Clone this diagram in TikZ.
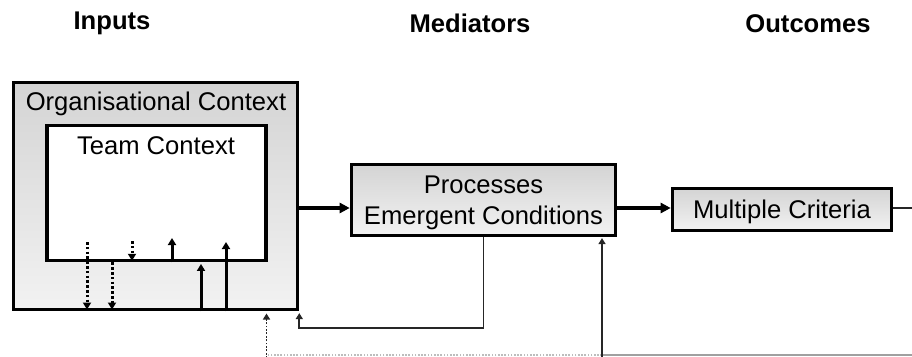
\documentclass[tikz,border=0pt]{standalone}
\usepackage{fontspec}
\setmainfont{Liberation Sans}
\usetikzlibrary{arrows.meta}
\definecolor{shadetop}{HTML}{D4D4D4}
\definecolor{shadebot}{HTML}{F2F2F2}
\definecolor{wire}{HTML}{262626}
\definecolor{edgegray}{HTML}{A0A0A0}
\begin{document}
\begin{tikzpicture}[x=1pt,y=-1pt,
  txt/.style={font=\fontsize{25.6}{30}\selectfont, inner sep=0pt, anchor=base},
  head/.style={txt, font=\fontsize{25.6}{30}\selectfont\bfseries},
  shadedbox/.style={draw=black, line width=3.6pt, top color=shadetop, bottom color=shadebot, inner sep=0pt},
  plainbox/.style={draw=black, line width=3.2pt, fill=white, inner sep=0pt},
  bigarrow/.style={line width=3.2pt, -{Triangle[length=10pt,width=10pt]}},
  smallarrow/.style={line width=3pt, -{Triangle[length=7pt,width=8pt]}},
  dotarrow/.style={smallarrow, dash pattern=on 2.6pt off 2.2pt},
  thinarrow/.style={draw=wire, line width=1.9pt, -{Triangle[length=6pt,width=7pt]}},
  thindot/.style={thinarrow, dash pattern=on 1.8pt off 1.6pt},
]
\path[use as bounding box] (0,0) rectangle (912,356);
\clip (0,0) rectangle (912,356);

% column headings
\node[head] (hin)  at (112,29) {Inputs};
\node[head] (hmed) at (470,32) {Mediators};
\node[head] (hout) at (808,32) {Outcomes};

% boxes
\node[shadedbox, minimum width=284pt, minimum height=227pt] (org) at (155.5,196) {};
\node[plainbox, minimum width=219pt, minimum height=135.5pt] (team) at (156.5,193) {};
\node[shadedbox, minimum width=264pt, minimum height=71pt] (proc) at (483.5,200) {};
\node[shadedbox, minimum width=219pt, minimum height=42pt] (crit) at (782,209.5) {};

% box labels
\node[txt] (orgl)  at (156,110) {Organisational Context};
\node[txt] (teaml) at (156,154) {Team Context};
\node[txt] (procl) at (483.5,193) {Processes};
\node[txt] (emerl) at (483.5,224) {Emergent Conditions};
\node[txt] (critl) at (782,218) {Multiple Criteria};

% reference points
\coordinate (mid) at (0,208);
\coordinate (d1) at (87,242);
\coordinate (d2) at (112,0);
\coordinate (d3) at (132,241);
\coordinate (u4) at (172,238);
\coordinate (u5) at (201,0);
\coordinate (u6) at (226,242);
\coordinate (fb) at (0,328);
\coordinate (outR) at (916,208);
\coordinate (botR) at (916,355);
\coordinate (b1) at (602,358);
\coordinate (b1h) at (602,355);
\coordinate (b2) at (266.5,358);
\coordinate (b2h) at (266.5,355);

% links between team and organisation
\draw[dotarrow, shorten >=1.8pt] (d1) -- (d1 |- org.south);
\draw[dotarrow, shorten >=1.8pt] (d2 |- team.south) -- (d2 |- org.south);
\draw[dotarrow, shorten >=1.6pt] (d3) -- (d3 |- team.south);
\draw[smallarrow] (u4 |- team.south) -- (u4);
\draw[smallarrow, shorten >=1.6pt] (u5 |- org.south) -- (u5 |- team.south);
\draw[smallarrow] (u6 |- org.south) -- (u6);

% main flow
\draw[bigarrow] (org.east |- mid) -- (proc.west |- mid);
\draw[bigarrow] (proc.east |- mid) -- (crit.west |- mid);
\draw[draw=wire, line width=1.9pt] (crit.east |- mid) -- (outR);

% feedback loops
\draw[thinarrow, shorten >=1.8pt] (proc.south) |- (fb -| org.south east) -- (org.south east);
\draw[draw=edgegray, line width=1.8pt] (botR) -- (b1h);
\draw[draw=edgegray!70, line width=1.8pt, dash pattern=on 1.6pt off 1.6pt] (b1h) -- (b2h);
\draw[thinarrow, shorten >=0.8pt] (b1) -- (b1 |- proc.south);
\draw[thindot, shorten >=2.2pt] (b2) -- (b2 |- org.south);
\end{tikzpicture}
\end{document}
